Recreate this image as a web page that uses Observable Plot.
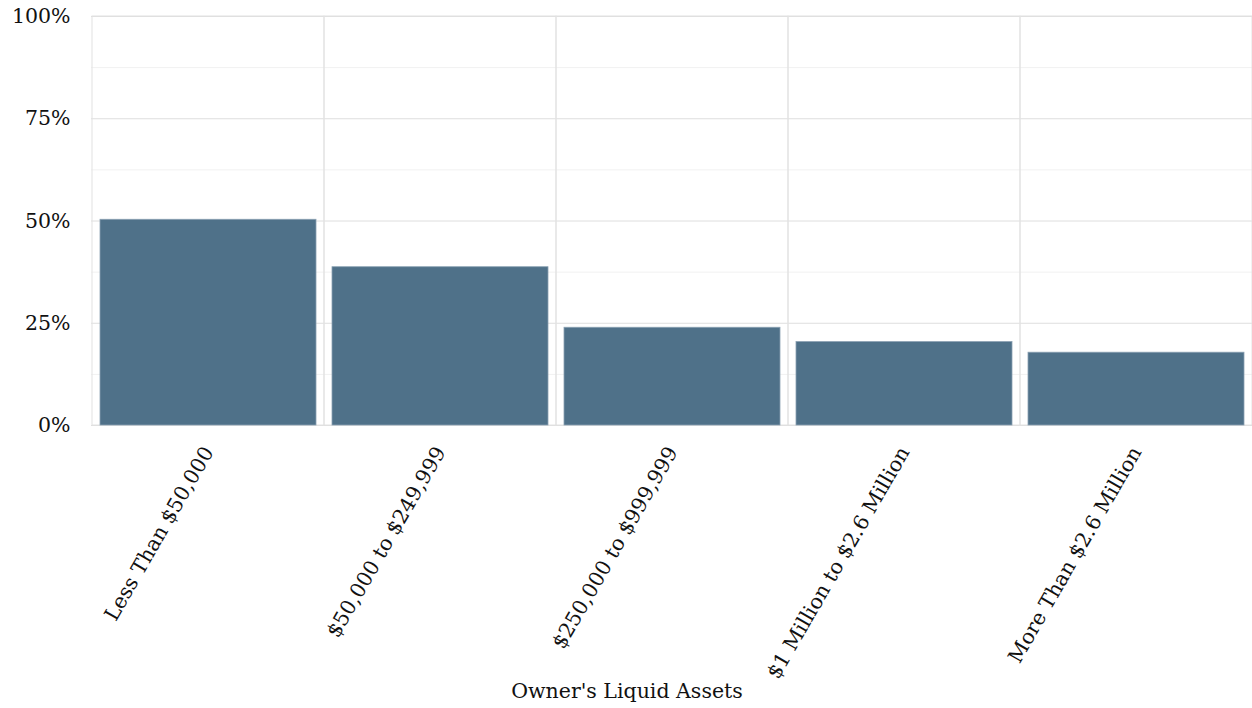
<!DOCTYPE html>
<html>
<head>
<meta charset="utf-8">
<script src="https://cdn.jsdelivr.net/npm/d3@7"></script>
<script src="https://cdn.jsdelivr.net/npm/@observablehq/plot@0.6"></script>
<style>
  html, body { margin: 0; padding: 0; background: #fff; }
  #chart svg { display: block; }
</style>
</head>
<body>
<div id="chart"></div>
<script>
const categories = ["Less Than $50,000", "$50,000 to $249,999", "$250,000 to $999,999", "$1 Million to $2.6 Million", "More Than $2.6 Million"];
const values = [50.3, 38.7, 23.9, 20.4, 17.8];
const yTicks = [0, 25, 50, 75, 100];
const yMinorTicks = [12.5, 37.5, 62.5, 87.5];
const xTitle = "Owner's Liquid Assets";

const data = categories.map((c, i) => ({category: c, value: values[i]}));
const font = "Georgia, 'DejaVu Serif', serif";
const fs = 20.5;

const chart = Plot.plot({
  width: 1252,
  height: 708,
  marginLeft: 91,
  marginRight: 0,
  marginTop: 16,
  marginBottom: 283,
  style: {fontFamily: font, fontSize: fs + "px", color: "#111", background: "#fff"},
  x: {domain: categories, padding: 0, label: null},
  y: {domain: [0, 100], label: null},
  marks: [
    Plot.ruleY(yMinorTicks, {stroke: "#f1f1f1", strokeWidth: 1}),
    Plot.ruleY(yTicks, {stroke: "#dedede", strokeWidth: 1}),
    Plot.barY(categories, {x: d => d, y1: 0, y2: 100, fill: "none", stroke: "#e2e2e2", strokeWidth: 1}),
    Plot.barY(data, {x: "category", y: "value", fill: "#4f7189", stroke: "#8aa0b2", strokeWidth: 0.8, insetLeft: 8, insetRight: 8}),
    Plot.axisY({ticks: yTicks, tickFormat: d => d + "%", tickSize: 0, tickPadding: 21, label: null, fontSize: fs}),
    Plot.axisX({tickSize: 0, tickPadding: 23, tickRotate: -60, label: null, fontSize: fs}),
    Plot.text([xTitle], {frameAnchor: "bottom", dx: -45, dy: 272, fontSize: fs, fill: "#111"})
  ]
});
document.getElementById("chart").appendChild(chart);
</script>
</body>
</html>
